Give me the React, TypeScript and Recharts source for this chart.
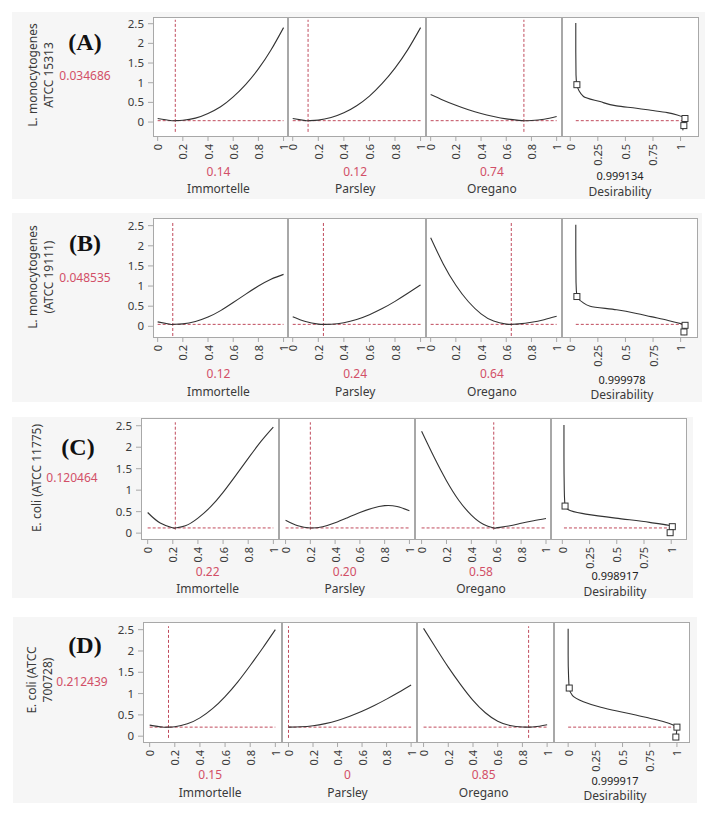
import React from "react";
import {
  ComposedChart,
  Line,
  ReferenceLine,
  Scatter,
  XAxis,
  YAxis,
} from "recharts";

const FONT = "'Noto Sans', 'Open Sans', sans-serif";
const SERIF = "'Liberation Serif', 'Times New Roman', serif";
const INK = "#3a3a3a";
const RED = "#d24f67";
const DASH = "#c04a5c";
const FRAME = "#a8a8a8";
const ROW_BG = "#f6f6f6";
const AXIS_H = 44;
const PAD = 10;

const factorNames = ["Immortelle", "Parsley", "Oregano"];
const levels = [0, 0.1, 0.2, 0.3, 0.4, 0.5, 0.6, 0.7, 0.8, 0.9, 1];
const factorTicks = [0, 0.2, 0.4, 0.6, 0.8, 1];
const desirabilityTicks = [0, 0.25, 0.5, 0.75, 1];
const responseTicks = [0, 0.5, 1, 1.5, 2, 2.5];

// (A) L. monocytogenes ATCC 15313 — predicted response at each level
const immortelleA = [0.09, 0.039, 0.044, 0.1, 0.22, 0.39, 0.64, 0.96, 1.35, 1.83, 2.4];
const parsleyA = [0.09, 0.036, 0.05, 0.115, 0.235, 0.415, 0.66, 0.98, 1.37, 1.84, 2.4];
const oreganoA = [0.7, 0.555, 0.425, 0.31, 0.215, 0.14, 0.08, 0.043, 0.04, 0.073, 0.14];
const settingsA = [0.14, 0.12, 0.74];
const responseA = 0.034686;
const desirabilityA = 0.999134;
const desCurveDA = [0.05, 0.05, 0.052, 0.06, 0.12, 0.27, 0.42, 0.6, 0.73, 0.88, 0.97, 1.04, 1.03, 1.02];
const desCurveRA = [2.52, 1.8, 1.2, 0.95, 0.65, 0.52, 0.41, 0.35, 0.3, 0.24, 0.18, 0.09, -0.05, -0.21];
const desMarkDA = [0.06, 1.04, 1.03];
const desMarkRA = [0.95, 0.09, -0.09];

// (B) L. monocytogenes ATCC 19111
const immortelleB = [0.11, 0.05, 0.06, 0.12, 0.23, 0.39, 0.59, 0.8, 1.0, 1.17, 1.29];
const parsleyB = [0.24, 0.12, 0.055, 0.052, 0.09, 0.17, 0.29, 0.44, 0.62, 0.82, 1.03];
const oreganoB = [2.2, 1.55, 1.02, 0.61, 0.31, 0.13, 0.055, 0.06, 0.1, 0.165, 0.25];
const settingsB = [0.12, 0.24, 0.64];
const responseB = 0.048535;
const desirabilityB = 0.999978;
const desCurveDB = [0.05, 0.05, 0.052, 0.06, 0.11, 0.18, 0.42, 0.6, 0.73, 0.88, 0.97, 1.04, 1.03];
const desCurveRB = [2.52, 1.8, 1.1, 0.74, 0.6, 0.5, 0.41, 0.32, 0.24, 0.15, 0.09, 0.025, -0.22];
const desMarkDB = [0.06, 1.04, 1.03];
const desMarkRB = [0.74, 0.025, -0.14];

// (C) E. coli ATCC 11775
const immortelleC = [0.48, 0.235, 0.123, 0.17, 0.35, 0.61, 0.95, 1.34, 1.74, 2.13, 2.47];
const parsleyC = [0.3, 0.17, 0.121, 0.15, 0.24, 0.36, 0.48, 0.58, 0.64, 0.62, 0.52];
const oreganoC = [2.37, 1.77, 1.22, 0.76, 0.42, 0.2, 0.122, 0.165, 0.23, 0.29, 0.34];
const settingsC = [0.22, 0.2, 0.58];
const responseC = 0.120464;
const desirabilityC = 0.998917;
const desCurveDC = [0.015, 0.015, 0.018, 0.025, 0.06, 0.18, 0.49, 0.8, 1.01, 0.99];
const desCurveRC = [2.52, 1.8, 1.0, 0.63, 0.54, 0.46, 0.35, 0.25, 0.15, -0.04];
const desMarkDC = [0.025, 1.01, 0.99];
const desMarkRC = [0.63, 0.15, 0.01];

// (D) E. coli ATCC 700728
const immortelleD = [0.26, 0.215, 0.22, 0.29, 0.43, 0.645, 0.93, 1.27, 1.66, 2.07, 2.5];
const parsleyD = [0.2124, 0.22, 0.245, 0.295, 0.37, 0.47, 0.585, 0.72, 0.87, 1.03, 1.2];
const oreganoD = [2.53, 2.07, 1.62, 1.21, 0.84, 0.55, 0.35, 0.25, 0.215, 0.22, 0.27];
const settingsD = [0.15, 0, 0.85];
const responseD = 0.212439;
const desirabilityD = 0.999917;
const desCurveDD = [0, 0, 0.004, 0.01, 0.04, 0.14, 0.3, 0.45, 0.6, 0.75, 0.88, 0.96, 1.0, 0.99];
const desCurveRD = [2.52, 1.9, 1.4, 1.13, 0.95, 0.81, 0.68, 0.59, 0.51, 0.42, 0.34, 0.27, 0.2124, -0.02];
const desMarkDD = [0.01, 1.0, 0.99];
const desMarkRD = [1.13, 0.2124, -0.02];

interface ProfilerData {
  tag: string;
  title: string[];
  profiles: number[][];
  settings: number[];
  response: number;
  desirability: number;
  desD: number[];
  desR: number[];
  markD: number[];
  markR: number[];
}

const profilers: ProfilerData[] = [
  {
    tag: "(A)",
    title: ["L. monocytogenes", "ATCC 15313"],
    profiles: [immortelleA, parsleyA, oreganoA],
    settings: settingsA,
    response: responseA,
    desirability: desirabilityA,
    desD: desCurveDA,
    desR: desCurveRA,
    markD: desMarkDA,
    markR: desMarkRA,
  },
  {
    tag: "(B)",
    title: ["L. monocytogenes", "(ATCC 19111)"],
    profiles: [immortelleB, parsleyB, oreganoB],
    settings: settingsB,
    response: responseB,
    desirability: desirabilityB,
    desD: desCurveDB,
    desR: desCurveRB,
    markD: desMarkDB,
    markR: desMarkRB,
  },
  {
    tag: "(C)",
    title: ["E. coli (ATCC 11775)"],
    profiles: [immortelleC, parsleyC, oreganoC],
    settings: settingsC,
    response: responseC,
    desirability: desirabilityC,
    desD: desCurveDC,
    desR: desCurveRC,
    markD: desMarkDC,
    markR: desMarkRC,
  },
  {
    tag: "(D)",
    title: ["E. coli (ATCC", "700728)"],
    profiles: [immortelleD, parsleyD, oreganoD],
    settings: settingsD,
    response: responseD,
    desirability: desirabilityD,
    desD: desCurveDD,
    desR: desCurveRD,
    markD: desMarkDD,
    markR: desMarkRD,
  },
];

interface RowLayout {
  bg: [number, number, number, number];
  plotTop: number;
  plotHeight: number;
  edges: number[];
  yDomain: [number, number];
  xDomain: [number, number];
  dDomain: [number, number];
  vRange: [number, number];
  tagAt: [number, number];
  respAt: [number, number];
  titleAt: [number, number];
  valueY: number;
  nameY: number;
  desX: number;
  desValueY: number;
  desNameY: number;
}

const layouts: RowLayout[] = [
  {
    bg: [12, 12, 705, 199],
    plotTop: 17.3,
    plotHeight: 120,
    edges: [152.7, 288.3, 426, 561.7, 699],
    yDomain: [-0.38, 2.67],
    xDomain: [-0.037, 1.04],
    dDomain: [-0.075, 1.17],
    vRange: [-0.25, 2.6],
    tagAt: [85, 42],
    respAt: [85, 76],
    titleAt: [41, 75],
    valueY: 171.7,
    nameY: 189,
    desX: 620,
    desValueY: 175,
    desNameY: 191.5,
  },
  {
    bg: [12, 213, 702, 402],
    plotTop: 218,
    plotHeight: 120,
    edges: [152.7, 288.3, 426, 561.7, 698],
    yDomain: [-0.29, 2.69],
    xDomain: [-0.037, 1.04],
    dDomain: [-0.075, 1.16],
    vRange: [-0.24, 2.6],
    tagAt: [85, 243],
    respAt: [85, 278],
    titleAt: [41, 277],
    valueY: 374,
    nameY: 392,
    desX: 622,
    desValueY: 378.5,
    desNameY: 395,
  },
  {
    bg: [12, 417, 693, 598],
    plotTop: 418,
    plotHeight: 122,
    edges: [140.7, 278.7, 414.7, 551.3, 687],
    yDomain: [-0.16, 2.68],
    xDomain: [-0.053, 1.045],
    dDomain: [-0.104, 1.142],
    vRange: [0.08, 2.58],
    tagAt: [78, 447],
    respAt: [72, 478],
    titleAt: [37, 477.5],
    valueY: 571.7,
    nameY: 589,
    desX: 615,
    desValueY: 575,
    desNameY: 591.5,
  },
  {
    bg: [13, 617, 697, 803],
    plotTop: 622,
    plotHeight: 121,
    edges: [142.7, 281.7, 417.3, 554, 690],
    yDomain: [-0.16, 2.68],
    xDomain: [-0.053, 1.053],
    dDomain: [-0.13, 1.12],
    vRange: [-0.04, 2.58],
    tagAt: [85, 645],
    respAt: [82, 682],
    titleAt: [40, 680],
    valueY: 775,
    nameY: 793,
    desX: 615,
    desValueY: 780,
    desNameY: 796,
  },
];

interface Point {
  x: number;
  r: number;
}

function profileTable(ys: number[], setting: number, response: number): Point[] {
  const rows = levels
    .map((x, i) => ({ x, r: ys[i] }))
    .filter((p) => Math.abs(p.x - setting) > 0.005);
  rows.push({ x: setting, r: response });
  return rows.sort((a, b) => a.x - b.x);
}

function pairTable(xs: number[], ys: number[]): Point[] {
  return xs.map((x, i) => ({ x, r: ys[i] }));
}

function formatSetting(value: number): string {
  return value === 0 ? "0" : value.toFixed(2);
}

function renderRotatedTick(props: any) {
  const { x, y, payload } = props;
  return (
    <text
      x={x}
      y={y}
      transform={`rotate(-90 ${x} ${y})`}
      textAnchor="end"
      dominantBaseline="central"
      fontSize={11}
      fontFamily={FONT}
      fill={INK}
    >
      {String(payload.value)}
    </text>
  );
}

function renderSquare(props: any) {
  return (
    <rect
      x={props.cx - 3}
      y={props.cy - 3}
      width={6}
      height={6}
      fill="#fff"
      stroke="#333"
      strokeWidth={1}
    />
  );
}

interface TextProps {
  x: number;
  y: number;
  rotate?: boolean;
  style?: React.CSSProperties;
  children: React.ReactNode;
}

function PlacedText({ x, y, rotate, style, children }: TextProps) {
  return (
    <div
      style={{
        position: "absolute",
        left: x,
        top: y,
        transform: `translate(-50%, -50%)${rotate ? " rotate(-90deg)" : ""}`,
        whiteSpace: "nowrap",
        textAlign: "center",
        lineHeight: 1,
        fontSize: 12,
        ...style,
      }}
    >
      {children}
    </div>
  );
}

interface PanelProps {
  left: number;
  top: number;
  width: number;
  height: number;
  axisWidth: number;
  xDomain: [number, number];
  yDomain: [number, number];
  xTicks: number[];
  curve: Point[];
  curveType: "natural" | "monotoneY";
  markers?: Point[];
  level: { x0: number; x1: number; y: number };
  setting?: number;
  vRange: [number, number];
}

function PanelChart(props: PanelProps) {
  const { left, top, width, height, axisWidth, level, setting, vRange } = props;
  return (
    <>
      <div
        style={{
          position: "absolute",
          left,
          top,
          width,
          height,
          background: "#fff",
          boxSizing: "border-box",
          border: `1px solid ${FRAME}`,
        }}
      />
      <div style={{ position: "absolute", left: left - axisWidth - PAD, top: top - PAD }}>
        <ComposedChart
          width={width + axisWidth + 2 * PAD}
          height={height + AXIS_H + PAD}
          data={props.curve}
          margin={{ top: PAD, right: PAD, bottom: 0, left: PAD }}
        >
          <XAxis
            type="number"
            dataKey="x"
            domain={props.xDomain}
            allowDataOverflow
            ticks={props.xTicks}
            interval={0}
            height={AXIS_H}
            axisLine={false}
            tickLine={{ stroke: FRAME }}
            tickSize={4}
            tickMargin={3}
            tick={renderRotatedTick}
          />
          <YAxis
            type="number"
            domain={props.yDomain}
            allowDataOverflow
            ticks={responseTicks}
            interval={0}
            width={axisWidth}
            hide={axisWidth === 0}
            axisLine={false}
            tickLine={{ stroke: FRAME }}
            tickSize={5}
            tickMargin={4}
            tick={{ fontSize: 11.5, fill: INK, fontFamily: FONT }}
          />
          <ReferenceLine
            segment={[
              { x: level.x0, y: level.y },
              { x: level.x1, y: level.y },
            ]}
            stroke={DASH}
            strokeDasharray="3 2"
          />
          {setting !== undefined && (
            <ReferenceLine
              segment={[
                { x: setting, y: vRange[0] },
                { x: setting, y: vRange[1] },
              ]}
              stroke={DASH}
              strokeDasharray="3 2"
            />
          )}
          <Line
            dataKey="r"
            type={props.curveType}
            stroke="#333"
            strokeWidth={1.1}
            dot={false}
            isAnimationActive={false}
          />
          {props.markers && (
            <Scatter
              data={props.markers}
              dataKey="r"
              shape={renderSquare}
              isAnimationActive={false}
            />
          )}
        </ComposedChart>
      </div>
    </>
  );
}

function ProfilerRow({ data, layout }: { data: ProfilerData; layout: RowLayout }) {
  const { bg, edges, plotTop, plotHeight } = layout;
  const desCurve = pairTable(data.desD, data.desR);
  const markers = pairTable(data.markD, data.markR);

  return (
    <>
      <div
        style={{
          position: "absolute",
          left: bg[0],
          top: bg[1],
          width: bg[2] - bg[0],
          height: bg[3] - bg[1],
          background: ROW_BG,
        }}
      />
      <PlacedText
        x={layout.tagAt[0]}
        y={layout.tagAt[1]}
        style={{ fontFamily: SERIF, fontWeight: 700, fontSize: 24, color: "#111" }}
      >
        {data.tag}
      </PlacedText>
      <PlacedText x={layout.respAt[0]} y={layout.respAt[1]} style={{ color: RED }}>
        {data.response.toFixed(6)}
      </PlacedText>
      <PlacedText
        x={layout.titleAt[0]}
        y={layout.titleAt[1]}
        rotate
        style={{ lineHeight: "16px", color: INK }}
      >
        {data.title.map((line) => (
          <div key={line}>{line}</div>
        ))}
      </PlacedText>

      {data.profiles.map((ys, k) => {
        const left = edges[k];
        const width = edges[k + 1] - edges[k];
        const centre = left + width / 2 - 2;
        return (
          <React.Fragment key={factorNames[k]}>
            <PanelChart
              left={left}
              top={plotTop}
              width={width}
              height={plotHeight}
              axisWidth={k === 0 ? 40 : 0}
              xDomain={layout.xDomain}
              yDomain={layout.yDomain}
              xTicks={factorTicks}
              curve={profileTable(ys, data.settings[k], data.response)}
              curveType="natural"
              level={{ x0: 0, x1: 1, y: data.response }}
              setting={data.settings[k]}
              vRange={layout.vRange}
            />
            <PlacedText x={centre} y={layout.valueY} style={{ color: RED }}>
              {formatSetting(data.settings[k])}
            </PlacedText>
            <PlacedText x={centre} y={layout.nameY} style={{ color: INK }}>
              {factorNames[k]}
            </PlacedText>
          </React.Fragment>
        );
      })}

      <PanelChart
        left={edges[3]}
        top={plotTop}
        width={edges[4] - edges[3]}
        height={plotHeight}
        axisWidth={0}
        xDomain={layout.dDomain}
        yDomain={layout.yDomain}
        xTicks={desirabilityTicks}
        curve={desCurve}
        curveType="monotoneY"
        markers={markers}
        level={{ x0: data.desD[0], x1: Math.max(...data.desD), y: data.response }}
        vRange={layout.vRange}
      />
      <PlacedText
        x={layout.desX}
        y={layout.desValueY}
        style={{ color: "#222", fontSize: 11 }}
      >
        {data.desirability.toFixed(6)}
      </PlacedText>
      <PlacedText x={layout.desX} y={layout.desNameY} style={{ color: INK }}>
        Desirability
      </PlacedText>
    </>
  );
}

export default function App() {
  return (
    <div
      style={{
        position: "absolute",
        left: 0,
        top: 0,
        width: 717,
        height: 814,
        background: "#fff",
        fontFamily: FONT,
        color: INK,
        overflow: "hidden",
      }}
    >
      {profilers.map((data, i) => (
        <ProfilerRow key={data.tag} data={data} layout={layouts[i]} />
      ))}
    </div>
  );
}
